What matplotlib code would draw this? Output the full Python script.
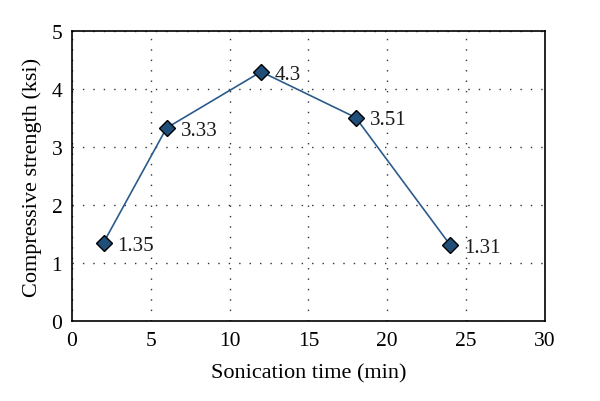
import matplotlib
matplotlib.use('Agg')
import matplotlib.pyplot as plt

sonication_time = [2, 6, 12, 18, 24]
strength = [1.35, 3.33, 4.3, 3.51, 1.31]
labels = ['1.35', '3.33', '4.3', '3.51', '1.31']

plt.rcParams['font.family'] = 'Liberation Serif'

fig = plt.figure(figsize=(6, 4.02), dpi=100)
ax = fig.add_axes([0.12, 0.199, 0.788, 0.721])

ax.plot(sonication_time, strength, color='#2b5b8c', linewidth=1.2,
        marker='D', markersize=8.5, markerfacecolor='#1f4e79',
        markeredgecolor='black', markeredgewidth=1.0, zorder=3)
for x, y, s in zip(sonication_time, strength, labels):
    ax.annotate(s, (x, y), xytext=(10, -5), textcoords='offset points',
                fontsize=15, color='#1a1a1a')

ax.set_xlim(0, 30)
ax.set_ylim(0, 5)
ax.set_xticks(range(0, 31, 5))
ax.set_yticks(range(0, 6))
ax.grid(True, linestyle=(0, (1, 6.5)), color='#333333', linewidth=1.0)
ax.tick_params(length=0, labelsize=15.5, pad=7)
for sp in ax.spines.values():
    sp.set_linewidth(1.2)

ax.set_xlabel('Sonication time (min)', fontsize=16, labelpad=10)
ax.set_ylabel('Compressive strength (ksi)', fontsize=16, labelpad=7)

fig.savefig('out.png', dpi=100)
